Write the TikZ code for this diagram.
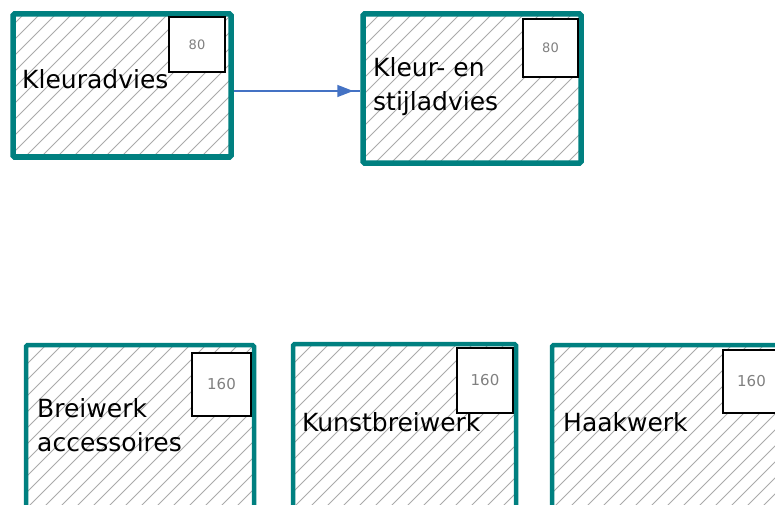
\documentclass[tikz,border=0pt]{standalone}
\usepackage{fontspec}
\setmainfont{DejaVu Sans}
\usepackage{xcolor}
\usetikzlibrary{positioning, arrows.meta, decorations.markings, calc}
\definecolor{Teal}{RGB}{0,128,128}
\definecolor{Linkblue}{RGB}{68,114,196}
\definecolor{Hatch}{RGB}{170,170,170}
\tikzstyle{tk}=[%
      rectangle, draw=Teal, line width=5.5pt, rounded corners=1.5pt, inner sep=0pt,
      path picture={\foreach \i in {-260,-244,...,260}
        \draw[Hatch, line width=0.9pt] ($(path picture bounding box.south west)+(\i,0)$) -- ++(300,-300);}
]
\tikzstyle{nr}=[%
      rectangle, draw=black, line width=2pt, fill=white, inner sep=0pt,
      text=gray, font=\fontsize{13}{15}\selectfont
]
\tikzstyle{lb}=[%
      anchor=base west, inner sep=0pt, align=left,
      font=\fontsize{25}{34}\selectfont
]

\begin{document}
\begin{tikzpicture}[x=1pt, y=-1pt,
    flow/.style={color=Linkblue, line width=1.5pt, postaction={decorate},
      decoration={markings, mark=at position -7pt with {\arrow{Triangle[length=16pt,width=12pt]}}}}
  ]
    \useasboundingbox (0,0) rectangle (775,505);
    \clip (0,0) rectangle (775,505);

    % top row
    \node[tk, minimum width=218, minimum height=143] (kleur) at (122,85.5) {};
    \node[tk, minimum width=218, minimum height=149] (stijl) at (472,88.5) {};
    \draw[flow] ([yshift=-5.5pt]kleur.east) -- ([yshift=-2.5pt]stijl.west);

    % bottom row
    \node[tk, line width=4.5pt, minimum width=228, minimum height=200] (brei) at (140,445) {};
    \node[tk, line width=4.5pt, minimum width=223, minimum height=200] (kunst) at (404.5,444) {};
    \node[tk, line width=4.5pt, minimum width=248, minimum height=200] (haak) at (676,445) {};

    % hours
    \node[nr, minimum width=56, minimum height=55] (u1) at (197,44.5) {80};
    \node[nr, minimum width=55, minimum height=58] (u2) at (550.5,48) {80};
    \node[nr, minimum width=59, minimum height=63, font=\fontsize{15}{17}\selectfont] (u3) at (221.5,384.5) {160};
    \node[nr, minimum width=56, minimum height=65, font=\fontsize{15}{17}\selectfont] (u4) at (485,380.5) {160};
    \node[nr, minimum width=57, minimum height=63, font=\fontsize{15}{17}\selectfont] (u5) at (751.5,381.5) {160};

    \node[lb] (t1) at (22,89) {Kleuradvies};
    \node[lb] (t2) at (373,111) {Kleur- en\\stijladvies};
    \node[lb] (t3) at (37,451) {Breiwerk\\accessoires};
    \node[lb] (t4) at (302,431) {Kunstbreiwerk};
    \node[lb] (t5) at (563,431) {Haakwerk};

  \end{tikzpicture}
\end{document}
